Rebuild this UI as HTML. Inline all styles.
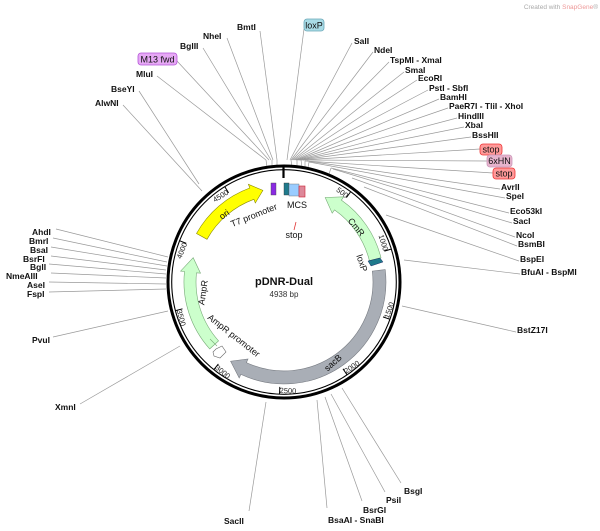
<!DOCTYPE html>
<html><head><meta charset="utf-8"><style>
html,body{margin:0;padding:0;background:#fff;}
svg{display:block;}
.e{font-family:"Liberation Sans",sans-serif;font-weight:bold;font-size:8.5px;fill:#111;}
.f{font-family:"Liberation Sans",sans-serif;font-size:9px;fill:#111;}
.t{font-family:"Liberation Sans",sans-serif;font-size:7.5px;fill:#222;}
.l{stroke:#999;stroke-width:0.7;fill:none;}
</style></head><body>
<svg width="600" height="531" viewBox="0 0 600 531" xmlns="http://www.w3.org/2000/svg">
<text x="598" y="9" text-anchor="end" style="font-family:'Liberation Sans',sans-serif;font-size:6.5px;fill:#aaa">Created with <tspan fill="#e99">SnapGene</tspan>®</text>

<g class="l">
<line x1="260" y1="31" x2="277" y2="160"/>
<line x1="304" y1="29" x2="287" y2="160"/>
<line x1="227" y1="38" x2="273" y2="160"/>
<line x1="203" y1="48" x2="271" y2="160"/>
<line x1="177" y1="61" x2="269" y2="160"/>
<line x1="157" y1="76" x2="266" y2="160"/>
<line x1="139" y1="91" x2="199" y2="184"/>
<line x1="123" y1="105" x2="202" y2="191"/>
<line x1="352" y1="43" x2="290" y2="160"/>
<line x1="373" y1="52" x2="291" y2="160"/>
<line x1="389" y1="62" x2="292" y2="160"/>
<line x1="404" y1="72" x2="293" y2="160"/>
<line x1="417" y1="80" x2="294" y2="160"/>
<line x1="428" y1="90" x2="295" y2="160"/>
<line x1="439" y1="99" x2="296" y2="160"/>
<line x1="448" y1="108" x2="297" y2="160"/>
<line x1="457" y1="118" x2="298" y2="160"/>
<line x1="464" y1="127" x2="299" y2="160"/>
<line x1="471" y1="137" x2="300" y2="160"/>
<line x1="480" y1="149" x2="301" y2="160"/>
<line x1="487" y1="161" x2="303" y2="160"/>
<line x1="493" y1="173" x2="305" y2="161"/>
<line x1="500" y1="189" x2="307" y2="161"/>
<line x1="505" y1="198" x2="309" y2="162"/>
<line x1="509" y1="213" x2="331" y2="168"/>
<line x1="512" y1="223" x2="333" y2="169"/>
<line x1="515" y1="237" x2="352" y2="178"/>
<line x1="517" y1="246" x2="364" y2="187"/>
<line x1="519" y1="261" x2="386" y2="215"/>
<line x1="520" y1="274" x2="404" y2="260"/>
<line x1="516" y1="332" x2="402" y2="306"/>
<line x1="291" y1="160" x2="292" y2="167"/>
<line x1="297" y1="160" x2="297" y2="167"/>
<line x1="301" y1="160" x2="302" y2="167"/>
<line x1="305" y1="161" x2="305" y2="168"/>
<line x1="309" y1="162" x2="308" y2="168"/>
<line x1="331" y1="168" x2="329" y2="174"/>
<line x1="266" y1="160" x2="267" y2="167"/>
<line x1="272" y1="160" x2="272" y2="167"/>
<line x1="277" y1="160" x2="277" y2="167"/>
<line x1="56" y1="229" x2="168" y2="257"/>
<line x1="53" y1="238" x2="167" y2="262"/>
<line x1="51" y1="247" x2="167" y2="266"/>
<line x1="51" y1="256" x2="166" y2="270"/>
<line x1="49" y1="264" x2="166" y2="274"/>
<line x1="51" y1="273" x2="166" y2="278"/>
<line x1="49" y1="282" x2="166" y2="284"/>
<line x1="49" y1="292" x2="166" y2="289"/>
<line x1="53" y1="337" x2="168" y2="311"/>
<line x1="80" y1="404" x2="180" y2="346"/>
<line x1="249" y1="511" x2="266" y2="402"/>
<line x1="327" y1="508" x2="317" y2="400"/>
<line x1="362" y1="501" x2="325" y2="397"/>
<line x1="385" y1="492" x2="331" y2="394"/>
<line x1="401" y1="483" x2="342" y2="388"/>
</g>

<circle cx="284" cy="282" r="116" fill="none" stroke="#000" stroke-width="3"/>
<circle cx="284" cy="282" r="112.3" fill="none" stroke="#000" stroke-width="1.1"/>
<line x1="283.5" y1="165" x2="283.5" y2="178" stroke="#000" stroke-width="2.2"/>

<g stroke="#000" stroke-width="1">
<line x1="350.5" y1="192" x2="346.4" y2="197.6"/>
<line x1="391.1" y1="249.1" x2="384.4" y2="251.1"/>
<line x1="389.6" y1="319.2" x2="383" y2="316.9"/>
<line x1="346.9" y1="374.6" x2="343" y2="368.8"/>
<line x1="279.5" y1="393.9" x2="279.8" y2="386.9"/>
<line x1="214" y1="369.4" x2="218.4" y2="363.9"/>
<line x1="175.7" y1="310.6" x2="182.5" y2="308.8"/>
<line x1="179.8" y1="240.8" x2="186.3" y2="243.4"/>
<line x1="224.9" y1="186.9" x2="228.6" y2="192.9"/>
</g>
<g class="t">
<text transform="translate(284,282) rotate(36.45) translate(0,-104)" text-anchor="end">500</text>
<text transform="translate(284,282) rotate(72.9) translate(0,-104)" text-anchor="end">1000</text>
<text transform="translate(284,282) rotate(-70.6) translate(0,111)" text-anchor="start">1500</text>
<text transform="translate(284,282) rotate(-34.2) translate(0,111)" text-anchor="start">2000</text>
<text transform="translate(284,282) rotate(2.3) translate(0,111)" text-anchor="start">2500</text>
<text transform="translate(284,282) rotate(38.7) translate(0,111)" text-anchor="start">3000</text>
<text transform="translate(284,282) rotate(75.2) translate(0,111)" text-anchor="start">3500</text>
<text transform="translate(284,282) rotate(-68.4) translate(0,-104)" text-anchor="end">4000</text>
<text transform="translate(284,282) rotate(-31.9) translate(0,-104)" text-anchor="end">4500</text>
</g>

<path d="M196.5,233.5 A100,100 0 0 1 249.8,188 L248.4,184.3 L262.9,190.4 L255.3,203 L253.9,199.3 A88,88 0 0 0 207,239.3 Z" fill="#ffff00" stroke="#888800" stroke-width="0.6"/>
<path d="M381,257.8 A100,100 0 0 0 341.4,200.1 L343.7,196.8 L325.2,197.5 L332.2,213.2 L334.5,209.9 A88,88 0 0 1 369.4,260.7 Z" fill="#ccffcc" stroke="#77aa77" stroke-width="0.6"/>
<path d="M385.2,269.6 A102,102 0 0 1 240.9,374.4 L239.2,378 L230.6,361.2 L248,359 L246.4,362.6 A89,89 0 0 0 372.3,271.1 Z" fill="#a9aeb6" stroke="#777b82" stroke-width="0.6"/>
<path d="M209.7,348.9 A100,100 0 0 1 184.5,271.5 L180.6,271.1 L193.2,257.7 L200.5,273.2 L196.5,272.8 A88,88 0 0 0 218.6,340.9 Z" fill="#ccffcc" stroke="#77aa77" stroke-width="0.6"/>
<line x1="210" y1="339" x2="217" y2="346" stroke="#77aa77" stroke-width="0.6"/>
<polygon points="222,346 226,352 220,358 214,356 213,352 216,349" fill="#fff" stroke="#666" stroke-width="0.6"/>
<polygon points="368,261 380,258 383,262 371,266" fill="#1f7a8c" stroke="#115" stroke-width="0.4"/>
<rect x="271" y="183" width="5" height="12" fill="#8a2be2" stroke="#444" stroke-width="0.4"/>
<rect x="284" y="183" width="5" height="12" fill="#1f7a8c" stroke="#333" stroke-width="0.4"/>
<rect x="289" y="184" width="10" height="12" fill="#99ccff" stroke="#666" stroke-width="0.4"/>
<rect x="299" y="186" width="6" height="11" fill="#dd8899" stroke="#cc2233" stroke-width="0.6"/>
<line x1="296" y1="222" x2="294" y2="230" stroke="#e03030" stroke-width="0.8"/>

<g class="f">
<text transform="translate(226,217) rotate(-35)" text-anchor="middle" font-size="9">ori</text>
<text transform="translate(255,218) rotate(-22)" text-anchor="middle">T7 promoter</text>
<text x="297" y="208" text-anchor="middle">MCS</text>
<text x="294" y="238" text-anchor="middle">stop</text>
<text transform="translate(354,229) rotate(50)" text-anchor="middle">CmR</text>
<text transform="translate(359,264) rotate(72)" text-anchor="middle">loxP</text>
<text transform="translate(335,365) rotate(-42)" text-anchor="middle">sacB</text>
<text transform="translate(206,293) rotate(-82)" text-anchor="middle">AmpR</text>
<text transform="translate(232,338) rotate(38)" text-anchor="middle">AmpR promoter</text>
</g>
<text x="284" y="285" text-anchor="middle" style="font-family:'Liberation Sans',sans-serif;font-weight:bold;font-size:11px;fill:#111">pDNR-Dual</text>
<text x="284" y="297" text-anchor="middle" style="font-family:'Liberation Sans',sans-serif;font-size:8px;fill:#333">4938 bp</text>

<rect x="304" y="19" width="20" height="12" rx="3" fill="#a9dbe6" stroke="#6aa8b8" stroke-width="0.8"/>
<text x="314" y="28.5" text-anchor="middle" class="f" font-size="8.5">loxP</text>
<rect x="138" y="53" width="39" height="12" rx="3" fill="#e6a8f5" stroke="#b455d8" stroke-width="0.8"/>
<text x="157.5" y="62.5" text-anchor="middle" class="f" font-size="8.5">M13 fwd</text>
<rect x="480" y="144" width="22" height="11" rx="3" fill="#ff9999" stroke="#ee3333" stroke-width="0.8"/>
<text x="491" y="152.5" text-anchor="middle" class="f" font-size="8.5">stop</text>
<rect x="487" y="155" width="25" height="12" rx="3" fill="#e6b3cc" stroke="#cc99bb" stroke-width="0.8"/>
<text x="499.5" y="164" text-anchor="middle" class="f" font-size="8.5">6xHN</text>
<rect x="493" y="168" width="22" height="11" rx="3" fill="#ff9999" stroke="#ee3333" stroke-width="0.8"/>
<text x="504" y="176.5" text-anchor="middle" class="f" font-size="8.5">stop</text>

<g class="e">
<text x="237" y="30">BmtI</text>
<text x="203" y="39">NheI</text>
<text x="180" y="49">BglII</text>
<text x="136" y="77">MluI</text>
<text x="111" y="92">BseYI</text>
<text x="95" y="106">AlwNI</text>
<text x="354" y="44">SalI</text>
<text x="374" y="53">NdeI</text>
<text x="390" y="63">TspMI - XmaI</text>
<text x="405" y="73">SmaI</text>
<text x="418" y="81">EcoRI</text>
<text x="429" y="91">PstI - SbfI</text>
<text x="440" y="100">BamHI</text>
<text x="449" y="109">PaeR7I - TliI - XhoI</text>
<text x="458" y="119">HindIII</text>
<text x="465" y="128">XbaI</text>
<text x="472" y="138">BssHII</text>
<text x="501" y="190">AvrII</text>
<text x="506" y="199">SpeI</text>
<text x="510" y="214">Eco53kI</text>
<text x="513" y="224">SacI</text>
<text x="516" y="238">NcoI</text>
<text x="518" y="247">BsmBI</text>
<text x="520" y="262">BspEI</text>
<text x="521" y="275">BfuAI - BspMI</text>
<text x="517" y="333">BstZ17I</text>
<text x="32" y="235">AhdI</text>
<text x="29" y="244">BmrI</text>
<text x="30" y="253">BsaI</text>
<text x="23" y="262">BsrFI</text>
<text x="30" y="270">BglI</text>
<text x="6" y="279">NmeAIII</text>
<text x="27" y="288">AseI</text>
<text x="27" y="297">FspI</text>
<text x="32" y="343">PvuI</text>
<text x="55" y="410">XmnI</text>
<text x="224" y="524">SacII</text>
<text x="328" y="523">BsaAI - SnaBI</text>
<text x="363" y="513">BsrGI</text>
<text x="386" y="503">PsiI</text>
<text x="404" y="494">BsgI</text>
</g>
</svg>
</body></html>
